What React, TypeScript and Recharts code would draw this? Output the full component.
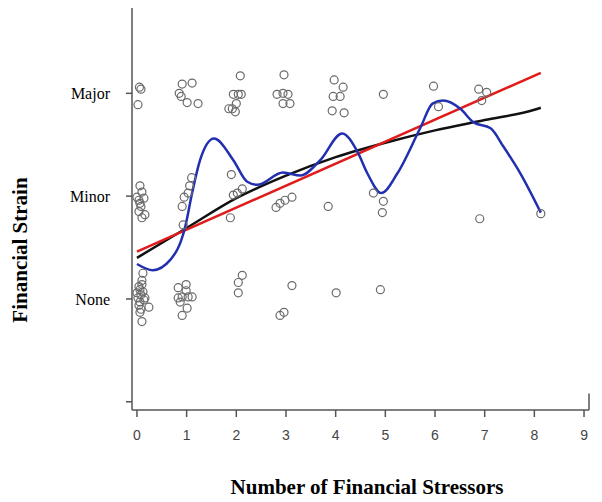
import React from "react";
import {
  ComposedChart,
  Scatter,
  Line,
  XAxis,
  YAxis,
  Label,
  ReferenceLine,
} from "recharts";

// jittered observations, x = number of stressors, y = strain level (0 None, 1 Minor, 2 Major)
const majorPoints = [
  { x: 0.05, y: 2.06 }, { x: 0.08, y: 2.04 }, { x: 0.02, y: 1.89 },
  { x: 0.91, y: 2.09 }, { x: 1.11, y: 2.1 }, { x: 0.85, y: 2.0 },
  { x: 0.89, y: 1.97 }, { x: 1.01, y: 1.91 }, { x: 1.23, y: 1.9 },
  { x: 2.08, y: 2.17 }, { x: 1.94, y: 1.99 }, { x: 2.04, y: 1.99 },
  { x: 2.1, y: 1.99 }, { x: 2.0, y: 1.9 }, { x: 1.85, y: 1.85 },
  { x: 1.92, y: 1.85 }, { x: 1.98, y: 1.82 },
  { x: 2.96, y: 2.18 }, { x: 2.82, y: 1.99 }, { x: 2.94, y: 2.0 },
  { x: 3.04, y: 1.99 }, { x: 2.94, y: 1.9 }, { x: 3.08, y: 1.9 },
  { x: 3.97, y: 2.13 }, { x: 4.15, y: 2.06 }, { x: 3.95, y: 1.97 },
  { x: 4.09, y: 1.97 }, { x: 3.93, y: 1.83 }, { x: 4.17, y: 1.81 },
  { x: 4.96, y: 1.99 },
  { x: 5.97, y: 2.07 }, { x: 6.07, y: 1.87 },
  { x: 6.88, y: 2.04 }, { x: 7.04, y: 2.01 }, { x: 6.94, y: 1.93 },
];

const minorPoints = [
  { x: 0.06, y: 1.1 }, { x: 0.1, y: 1.04 }, { x: 0.0, y: 0.99 },
  { x: 0.14, y: 0.98 }, { x: 0.06, y: 0.93 }, { x: 0.04, y: 0.96 },
  { x: 0.08, y: 0.9 }, { x: 0.04, y: 0.85 }, { x: 0.16, y: 0.82 },
  { x: 0.1, y: 0.79 },
  { x: 1.1, y: 1.18 }, { x: 1.06, y: 1.1 }, { x: 1.03, y: 1.03 },
  { x: 0.95, y: 0.99 }, { x: 0.91, y: 0.9 }, { x: 0.93, y: 0.72 },
  { x: 1.9, y: 1.21 }, { x: 2.12, y: 1.07 }, { x: 1.94, y: 1.01 },
  { x: 2.02, y: 1.03 }, { x: 1.88, y: 0.79 },
  { x: 2.8, y: 0.89 }, { x: 2.88, y: 0.93 }, { x: 2.98, y: 0.96 },
  { x: 3.12, y: 0.99 }, { x: 3.85, y: 0.9 },
  { x: 4.76, y: 1.03 }, { x: 4.96, y: 0.95 }, { x: 4.94, y: 0.84 },
  { x: 6.9, y: 0.78 }, { x: 8.13, y: 0.83 },
];

const nonePoints = [
  { x: 0.12, y: 0.25 }, { x: 0.1, y: 0.18 }, { x: 0.1, y: 0.14 },
  { x: 0.04, y: 0.12 }, { x: 0.06, y: 0.09 }, { x: 0.12, y: 0.07 },
  { x: 0.0, y: 0.06 }, { x: 0.08, y: 0.04 }, { x: 0.02, y: 0.01 },
  { x: 0.16, y: 0.01 }, { x: 0.14, y: -0.01 }, { x: 0.06, y: -0.03 },
  { x: 0.04, y: -0.06 }, { x: 0.24, y: -0.08 }, { x: 0.08, y: -0.1 },
  { x: 0.06, y: -0.13 }, { x: 0.1, y: -0.22 },
  { x: 0.83, y: 0.11 }, { x: 0.99, y: 0.14 }, { x: 0.99, y: 0.08 },
  { x: 0.83, y: 0.01 }, { x: 0.91, y: 0.02 }, { x: 1.03, y: 0.02 },
  { x: 1.11, y: 0.02 }, { x: 0.87, y: -0.03 }, { x: 1.01, y: -0.09 },
  { x: 0.91, y: -0.16 },
  { x: 2.12, y: 0.23 }, { x: 2.04, y: 0.16 }, { x: 2.04, y: 0.06 },
  { x: 3.12, y: 0.13 }, { x: 2.96, y: -0.13 }, { x: 2.88, y: -0.16 },
  { x: 4.01, y: 0.06 }, { x: 4.9, y: 0.09 },
];

// fitted curves
const linearFit = [
  { x: 0, y: 0.46 },
  { x: 8.13, y: 2.2 },
];

const quadFit = [
  { x: 0, y: 0.4 }, { x: 1, y: 0.69 }, { x: 2, y: 0.98 }, { x: 3, y: 1.2 },
  { x: 4, y: 1.38 }, { x: 5, y: 1.52 }, { x: 6, y: 1.64 }, { x: 7, y: 1.74 },
  { x: 8, y: 1.84 }, { x: 8.13, y: 1.86 },
];

const smoothFit = [
  { x: 0, y: 0.34 }, { x: 0.32, y: 0.28 }, { x: 0.67, y: 0.38 },
  { x: 0.97, y: 0.7 }, { x: 1.11, y: 1.03 }, { x: 1.27, y: 1.35 },
  { x: 1.55, y: 1.56 }, { x: 1.94, y: 1.35 }, { x: 2.22, y: 1.14 },
  { x: 2.42, y: 1.11 }, { x: 2.94, y: 1.23 }, { x: 3.29, y: 1.2 },
  { x: 3.69, y: 1.35 }, { x: 4.13, y: 1.61 }, { x: 4.44, y: 1.43 },
  { x: 4.64, y: 1.22 }, { x: 4.92, y: 1.03 }, { x: 5.24, y: 1.22 },
  { x: 5.71, y: 1.67 }, { x: 5.95, y: 1.9 }, { x: 6.16, y: 1.93 },
  { x: 6.51, y: 1.85 }, { x: 6.77, y: 1.72 }, { x: 7.12, y: 1.66 },
  { x: 7.38, y: 1.48 }, { x: 7.72, y: 1.22 }, { x: 8.13, y: 0.84 },
];

const xTicks = [0, 1, 2, 3, 4, 5, 6, 7, 8, 9];
const yTicks = [-1, 0, 1, 2];
const strainLabels: Record<number, string> = { 0: "None", 1: "Minor", 2: "Major" };

const allPoints = [...majorPoints, ...minorPoints, ...nonePoints];

function OpenCircle(props: any) {
  const { cx, cy } = props;
  return <circle cx={cx} cy={cy} r={4} fill="none" stroke="#6a6a6a" strokeWidth={1.2} />;
}

// chart sits at the body's 8px margin, so coordinates below are page - 8
export default function App() {
  return (
    <ComposedChart
      width={594}
      height={494}
      margin={{ top: 0, right: 13, left: 0, bottom: 0 }}
    >
      <XAxis
        type="number"
        dataKey="x"
        domain={[-0.1, 9.1]}
        ticks={xTicks}
        allowDataOverflow
        height={92}
        stroke="#555"
        strokeWidth={1.5}
        tickSize={7}
        tickMargin={13}
        tick={{ fontSize: 14, fill: "#444", fontFamily: "Liberation Sans, sans-serif" }}
      >
        <Label
          content={() => (
            <text
              x={359}
              y={479}
              textAnchor="middle"
              dominantBaseline="central"
              fontFamily="Liberation Serif, serif"
              fontWeight="bold"
              fontSize={21}
              fill="#000"
            >
              Number of Financial Stressors
            </text>
          )}
        />
      </XAxis>
      <YAxis
        type="number"
        dataKey="y"
        domain={[-1.08, 2.83]}
        ticks={yTicks}
        allowDataOverflow
        width={124}
        stroke="#555"
        strokeWidth={1.5}
        tickSize={6}
        tickMargin={16}
        tickFormatter={(v: number) => strainLabels[v] ?? ""}
        tick={{ fontSize: 16, fill: "#000", fontFamily: "Liberation Serif, serif" }}
      >
        <Label
          content={() => (
            <text
              x={12}
              y={242}
              transform="rotate(-90 12 242)"
              textAnchor="middle"
              dominantBaseline="central"
              fontFamily="Liberation Serif, serif"
              fontWeight="bold"
              fontSize={21}
              fill="#000"
            >
              Financial Strain
            </text>
          )}
        />
      </YAxis>
      <ReferenceLine
        segment={[{ x: 9.1, y: -1.08 }, { x: 9.1, y: -0.92 }]}
        stroke="#555"
        strokeWidth={1.5}
      />
      <Scatter
        data={allPoints}
        dataKey="y"
        shape={<OpenCircle />}
        isAnimationActive={false}
      />
      <Line
        data={quadFit}
        dataKey="y"
        type="monotone"
        stroke="#111"
        strokeWidth={2.5}
        dot={false}
        isAnimationActive={false}
      />
      <Line
        data={linearFit}
        dataKey="y"
        type="linear"
        stroke="#e01b1b"
        strokeWidth={2.5}
        dot={false}
        isAnimationActive={false}
      />
      <Line
        data={smoothFit}
        dataKey="y"
        type="monotone"
        stroke="#2230b0"
        strokeWidth={2.5}
        dot={false}
        isAnimationActive={false}
      />
    </ComposedChart>
  );
}
